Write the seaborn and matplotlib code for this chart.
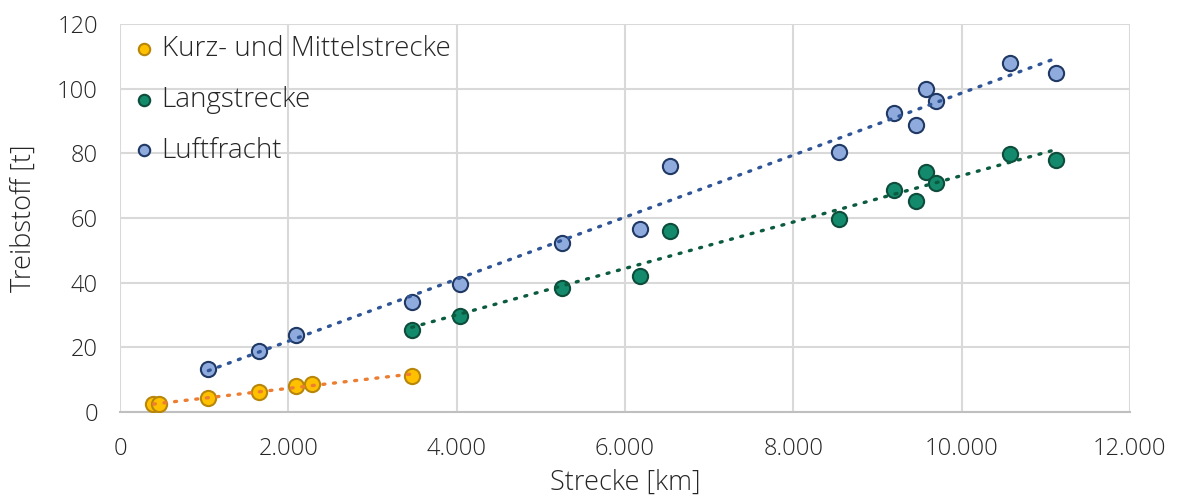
import numpy as np
import pandas as pd
import seaborn as sns
import matplotlib.pyplot as plt

# Data
kurz_x = [396, 467, 1049, 1655, 2095, 2285, 3466]
kurz_y = [2.4, 2.4, 4.2, 6.1, 8.0, 8.7, 11.2]

lang_x = [3466, 4043, 5255, 6178, 6538, 8542, 9196, 9461, 9580, 9699, 10570, 11124]
lang_y = [25.3, 29.7, 38.4, 42.1, 56.0, 59.7, 68.5, 65.3, 74.1, 70.9, 79.8, 77.9]

luft_x = [1049, 1655, 2095, 3466, 4043, 5255, 6178, 6538, 8542, 9196, 9461, 9580, 9699, 10570, 11124]
luft_y = [13.1, 18.9, 23.8, 34.0, 39.5, 52.2, 56.5, 76.1, 80.4, 92.4, 88.6, 99.9, 96.2, 108.0, 104.9]

labels = ["Kurz- und Mittelstrecke", "Langstrecke", "Luftfracht"]
fills = ["#FFC000", "#138A6B", "#8FAADC"]
edges = ["#B8860B", "#0E4D3C", "#1F3864"]
trend_colors = ["#ED7D31", "#0B5B3F", "#2F5597"]

df = pd.concat([
    pd.DataFrame({"Strecke": kurz_x, "Treibstoff": kurz_y, "Gruppe": labels[0]}),
    pd.DataFrame({"Strecke": lang_x, "Treibstoff": lang_y, "Gruppe": labels[1]}),
    pd.DataFrame({"Strecke": luft_x, "Treibstoff": luft_y, "Gruppe": labels[2]}),
])

sns.set_style("white")
plt.rcParams["font.family"] = ["Open Sans", "DejaVu Sans"]
plt.rcParams["font.weight"] = "light"
plt.rcParams["axes.labelweight"] = "light"

fig = plt.figure(figsize=(11.77, 4.98), dpi=100)
ax = fig.add_axes([0.102, 0.173, 0.858, 0.779])

for lab, fc, ec in zip(labels, fills, edges):
    sub = df[df["Gruppe"] == lab]
    sns.scatterplot(data=sub, x="Strecke", y="Treibstoff", ax=ax, color=fc,
                    edgecolor=ec, linewidth=1.5, s=120, label=lab, zorder=3)

# linear trend lines, dotted, drawn over the markers
for lab, tc in zip(labels, trend_colors):
    sub = df[df["Gruppe"] == lab]
    sns.regplot(data=sub, x="Strecke", y="Treibstoff", ax=ax, scatter=False, ci=None,
                line_kws=dict(color=tc, lw=2.4, ls=(0, (0.6, 2.6)),
                              dash_capstyle="round", zorder=4))

ax.set_xlim(0, 12000)
ax.set_ylim(0, 120)
ax.set_xticks(np.arange(0, 12001, 2000))
ax.set_yticks(np.arange(0, 121, 20))
ax.set_xticklabels([f"{v:,}".replace(",", ".") for v in range(0, 12001, 2000)])
ax.grid(True, color="#D9D9D9", lw=1.5)
ax.set_axisbelow(True)
for side in ["top", "right", "left"]:
    ax.spines[side].set_visible(False)
ax.spines["bottom"].set_color("#BFBFBF")
ax.spines["bottom"].set_linewidth(1.5)
ax.tick_params(labelsize=17, colors="#262626", length=0)
ax.tick_params(axis="x", pad=18)
ax.tick_params(axis="y", pad=16)
ax.set_xlabel("Strecke [km]", fontsize=19.5, color="#262626", labelpad=6)
ax.set_ylabel("Treibstoff [t]", fontsize=19.5, color="#262626", labelpad=14)

leg = ax.legend(loc="upper left", frameon=False, fontsize=20, markerscale=0.75,
                handlelength=0.9, handletextpad=0.2, labelspacing=0.82,
                borderaxespad=0.0, bbox_to_anchor=(0.0, 1.0))
for t in leg.get_texts():
    t.set_color("#262626")

fig.savefig("out.png", dpi=100)
